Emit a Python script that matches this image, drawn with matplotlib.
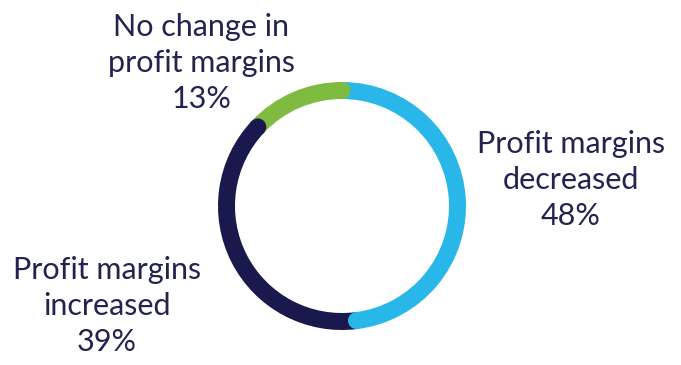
import numpy as np
import matplotlib.pyplot as plt
from matplotlib.patches import Circle

labels = ["Profit margins\ndecreased", "Profit margins\nincreased", "No change in\nprofit margins"]
values = [48, 39, 13]
colors = ["#29b6e8", "#19194d", "#80bb41"]
text_color = "#23234f"

W, H = 681, 365
fig = plt.figure(figsize=(W / 100, H / 100), dpi=100)
ax = fig.add_axes([0, 0, 1, 1])

cx, cy = 342, H - 206
r_out, ring = 124, 17

ax.pie(values, colors=colors, startangle=90, counterclock=False,
       center=(cx, cy), radius=r_out, frame=True,
       wedgeprops=dict(width=ring, linewidth=0))
ax.set_xlim(0, W)
ax.set_ylim(0, H)
ax.set_aspect("equal")
ax.axis("off")

# rounded end of each segment, laid over the start of the next one
r_mid = r_out - ring / 2
cum = np.cumsum(values) / np.sum(values)
for frac, c in zip(cum, colors):
    th = np.deg2rad(90 - frac * 360)
    ax.add_patch(Circle((cx + r_mid * np.cos(th), cy + r_mid * np.sin(th)),
                        ring / 2, color=c, lw=0, zorder=5))

font = dict(family="Lato", fontsize=22, color=text_color, ha="center",
            va="center", linespacing=1.36)
pos = [(571, 180), (107, 306), (201, 63)]
for lab, v, (x, y) in zip(labels, values, pos):
    ax.text(x, H - y, f"{lab}\n{v}%", **font)

fig.savefig("out.png", dpi=100)
